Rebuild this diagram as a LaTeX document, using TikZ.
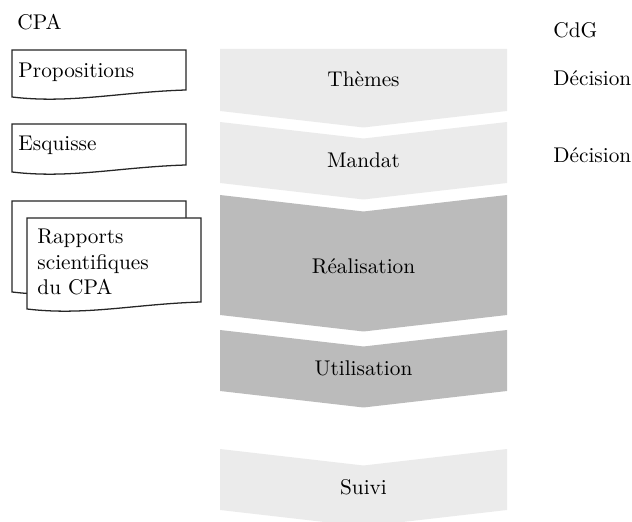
\documentclass[tikz,border=0pt]{standalone}
\usepackage{tikz}
\colorlet{phaselight}{gray!16}
\colorlet{phasedark}{gray!53}

\begin{document}
\begin{tikzpicture}[x=0.47pt, y=-0.47pt,
        docline/.style={draw=black!85, fill=white, line width=0.6pt},
        lbl/.style={anchor=west, inner sep=0pt}]
        \useasboundingbox (0,0) rectangle (632,522);
        \pgfmathsetmacro{\xl}{220};
        \pgfmathsetmacro{\xr}{507};
        \pgfmathsetmacro{\xm}{363.5};
        \pgfmathsetmacro{\d}{16.5};
        % phases
        \fill [phaselight] (\xl,49) -- (\xr,49) -- (\xr,111) -- (\xm,111+\d) -- (\xl,111) -- cycle;
        \foreach \ya/\yb/\col in {122/183/phaselight, 195/315/phasedark, 330/391/phasedark, 449/510/phaselight}
            \fill [\col] (\xl,\ya) -- (\xm,\ya+\d) -- (\xr,\ya) -- (\xr,\yb) -- (\xm,\yb+\d) -- (\xl,\yb) -- cycle;
        \node (themes) at (\xm,79) {Thèmes};
        \node (mandat) at (\xm,160) {Mandat};
        \node (realisation) at (\xm,266) {Réalisation};
        \node (utilisation) at (\xm,368) {Utilisation};
        \node (suivi) at (\xm,487) {Suivi};
        % documents
        \foreach \xa/\ya/\yb in {12/50/90, 12/124/165, 12/201/285, 27/218/302}
            \draw [docline] (\xa,\ya) -- (\xa+174,\ya) -- (\xa+174,\yb)
                .. controls (\xa+108,\yb+2) and (\xa+58,\yb+14) .. (\xa,\yb+7) -- cycle;
        \node [lbl] (prop) at (18,72) {Propositions};
        \node [lbl] (esq) at (18,145) {Esquisse};
        \node [lbl, align=left] (rapports) at (37,262) {Rapports\\scientifiques\\du CPA};
        % acteurs
        \node [lbl] (cpa) at (17,22) {CPA};
        \node [lbl] (cdg) at (553,30) {CdG};
        \node [lbl] (decA) at (553,78) {Décision};
        \node [lbl] (decB) at (553,155) {Décision};
    \end{tikzpicture}
\end{document}
